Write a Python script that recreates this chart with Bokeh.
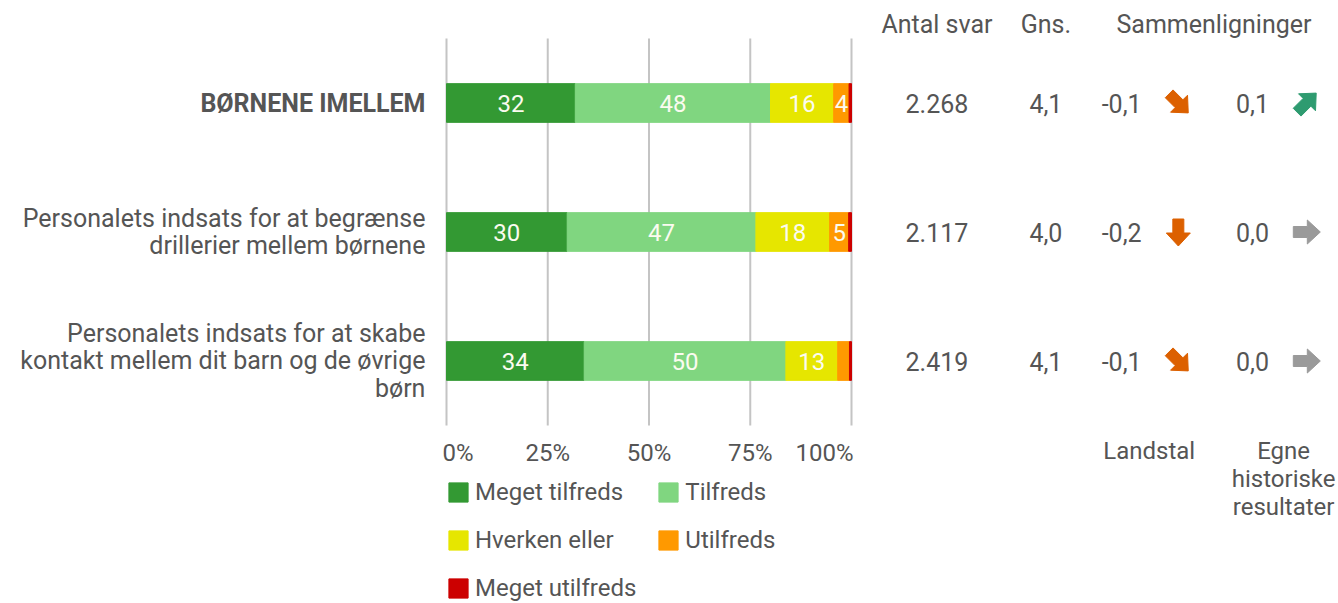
import math
from bokeh.plotting import figure
from bokeh.models import (ColumnDataSource, Label, Legend, LegendItem, Range1d)
from bokeh.core.properties import value
from bokeh.embed import file_html
from bokeh.resources import INLINE

# ---------------- data ----------------
categories = [
    "BØRNENE IMELLEM",
    "Personalets indsats for at begrænse\ndrillerier mellem børnene",
    "Personalets indsats for at skabe\nkontakt mellem dit barn og de øvrige\nbørn",
]
category_style = ["bold", "normal", "normal"]
levels = ["Meget tilfreds", "Tilfreds", "Hverken eller", "Utilfreds", "Meget utilfreds"]
meget_tilfreds = [31.8, 29.8, 34.0]
tilfreds = [48.2, 46.6, 49.8]
hverken_eller = [15.6, 18.2, 12.8]
utilfreds = [3.8, 4.7, 2.9]
meget_utilfreds = [0.6, 0.7, 0.5]
antal_svar = ["2.268", "2.117", "2.419"]
gns = ["4,1", "4,0", "4,1"]
landstal_diff = ["-0,1", "-0,2", "-0,1"]
landstal_trend = ["down-right", "down", "down-right"]
historisk_diff = ["0,1", "0,0", "0,0"]
historisk_trend = ["up-right", "right", "right"]
x_ticks = [0, 25, 50, 75, 100]
x_tick_labels = ["0%", "25%", "50%", "75%", "100%"]

# ---------------- styles ----------------
FONT = "Roboto"
TXT = "#555555"
FS = "25px"
FS_SMALL = "24px"
colors = ["#339933", "#80d680", "#e6e600", "#ff9900", "#cc0000"]
trend_angle = {"right": 0.0, "up-right": math.pi / 4, "down-right": -math.pi / 4, "down": -math.pi / 2}
trend_color = {"right": "#9a9a9a", "up-right": "#2e9b70", "down-right": "#dc6000", "down": "#dc6000"}
# arrow outline in pixels, pointing right (x to the right, y downwards)
ARROW_SHAPE = [(-13, -5.5), (1, -5.5), (1, -12), (14, 0), (1, 12), (1, 5.5), (-13, 5.5)]
tick_offsets = [-4, 0, 0, 0, 2]

W, H = 1338, 603
BAR_LEFT, BAR_W = 446, 405        # px
ROW_TOP, ROW_H = 38, 129          # px (top of first band, band height)
PX = BAR_W / 100.0
x_range = Range1d(-BAR_LEFT / PX, (W - BAR_LEFT) / PX)
y_range = Range1d(-0.5 + (H - ROW_TOP) / ROW_H, -0.5 - ROW_TOP / ROW_H)

# column x positions (in % units of the bar scale)
X_LABEL = -5.2
X_N = 121.1
X_GNS = 148.0
X_LDIFF = 166.7
X_LARROW = 180.7
X_HDIFF = 199.0
X_HARROW = 212.3
X_SAMMEN = 189.5
X_LANDSTAL = 173.5
X_EGNE = 206.7
Y_HEAD = -0.61
Y_FOOT = 2.59
Y_TICKLAB = 2.71

p = figure(width=W, height=H, output_backend="svg", toolbar_location=None,
           x_range=x_range, y_range=y_range, min_border=0, outline_line_color=None,
           title=None)
p.xaxis.visible = False
p.yaxis.visible = False
p.grid.visible = False
p.background_fill_color = "white"
p.border_fill_color = "white"

ys = list(range(len(categories)))

# grid lines (from the tick array)
p.segment(x0=x_ticks, x1=x_ticks, y0=[ys[0] - 0.5] * len(x_ticks), y1=[ys[-1] + 0.5] * len(x_ticks),
          line_color="#c4c4c4", line_width=2)

series = [meget_tilfreds, tilfreds, hverken_eller, utilfreds, meget_utilfreds]
keys = ["s%d" % i for i in range(len(levels))]
data = dict(y=ys)
for k, s in zip(keys, series):
    data[k] = s
src = ColumnDataSource(data)
rends = p.hbar_stack(keys, y="y", height=0.3, color=colors, source=src)

# tick labels
aligns = ["left"] + ["center"] * (len(x_ticks) - 2) + ["right"]
p.text(x=x_ticks, y=[Y_TICKLAB] * len(x_ticks), text=x_tick_labels, text_align=aligns,
       x_offset=tick_offsets,
       text_baseline="middle", text_color=TXT, text_font=value(FONT), text_font_size=FS_SMALL)

# bar value labels
bx, by, bt = [], [], []
for i, yv in enumerate(ys):
    left = 0.0
    for s in series:
        v = s[i]
        if round(v) >= 4:
            bx.append(left + v / 2)
            by.append(yv)
            bt.append(str(round(v)))
        left += v
p.text(x=bx, y=by, text=bt, text_align="center", text_baseline="middle", text_color="#fbfbf0",
       text_font=value(FONT), text_font_size=FS_SMALL)

# category labels
p.text(x=[X_LABEL] * len(ys), y=ys, text=categories, text_font_style=category_style,
       text_align="right", text_baseline="middle", text_color=TXT,
       text_font=value(FONT), text_font_size=FS, text_line_height=0.94)

def col_labels(xpos, texts):
    p.text(x=[xpos] * len(texts), y=ys, text=texts, text_align="center", text_baseline="middle",
           text_color=TXT, text_font=value(FONT), text_font_size=FS)

col_labels(X_N, antal_svar)
col_labels(X_GNS, gns)
col_labels(X_LDIFF, landstal_diff)
col_labels(X_HDIFF, historisk_diff)

def arrows(xpos, trends):
    xs_all, ys_all, cs = [], [], []
    for yv, t in zip(ys, trends):
        a = trend_angle[t]
        ca, sa = math.cos(a), math.sin(a)
        xx, yy = [], []
        for (u, v) in ARROW_SHAPE:
            ru = u * ca + v * sa
            rv = -u * sa + v * ca
            xx.append(xpos + ru / PX)
            yy.append(yv + rv / ROW_H)
        xs_all.append(xx)
        ys_all.append(yy)
        cs.append(trend_color[t])
    p.patches(xs_all, ys_all, fill_color=cs, line_color=cs, line_width=1)

arrows(X_LARROW, landstal_trend)
arrows(X_HARROW, historisk_trend)

# headers / footers
for txt, xpos in [("Antal svar", X_N), ("Gns.", X_GNS), ("Sammenligninger", X_SAMMEN)]:
    p.add_layout(Label(x=xpos, y=Y_HEAD, text=txt, text_align="center", text_baseline="middle",
                       text_color=TXT, text_font=FONT, text_font_size=FS))
for txt, xpos in [("Landstal", X_LANDSTAL), ("Egne\nhistoriske\nresultater", X_EGNE)]:
    p.add_layout(Label(x=xpos, y=Y_FOOT, text=txt, text_align="center", text_baseline="top",
                       text_color=TXT, text_font=FONT, text_font_size=FS_SMALL,
                       text_line_height=1.0))

legend = Legend(items=[LegendItem(label=value(l), renderers=[r]) for l, r in zip(levels, rends)],
                orientation="horizontal", ncols=2, location=(BAR_LEFT, 1),
                glyph_width=24, glyph_height=24, label_height=24, spacing=20,
                label_standoff=5, padding=0, margin=0,
                border_line_color=None, background_fill_alpha=0,
                label_text_font=FONT, label_text_font_size=FS_SMALL, label_text_color=TXT)
p.add_layout(legend, "center")

open("out.html", "w").write(file_html(p, INLINE))
